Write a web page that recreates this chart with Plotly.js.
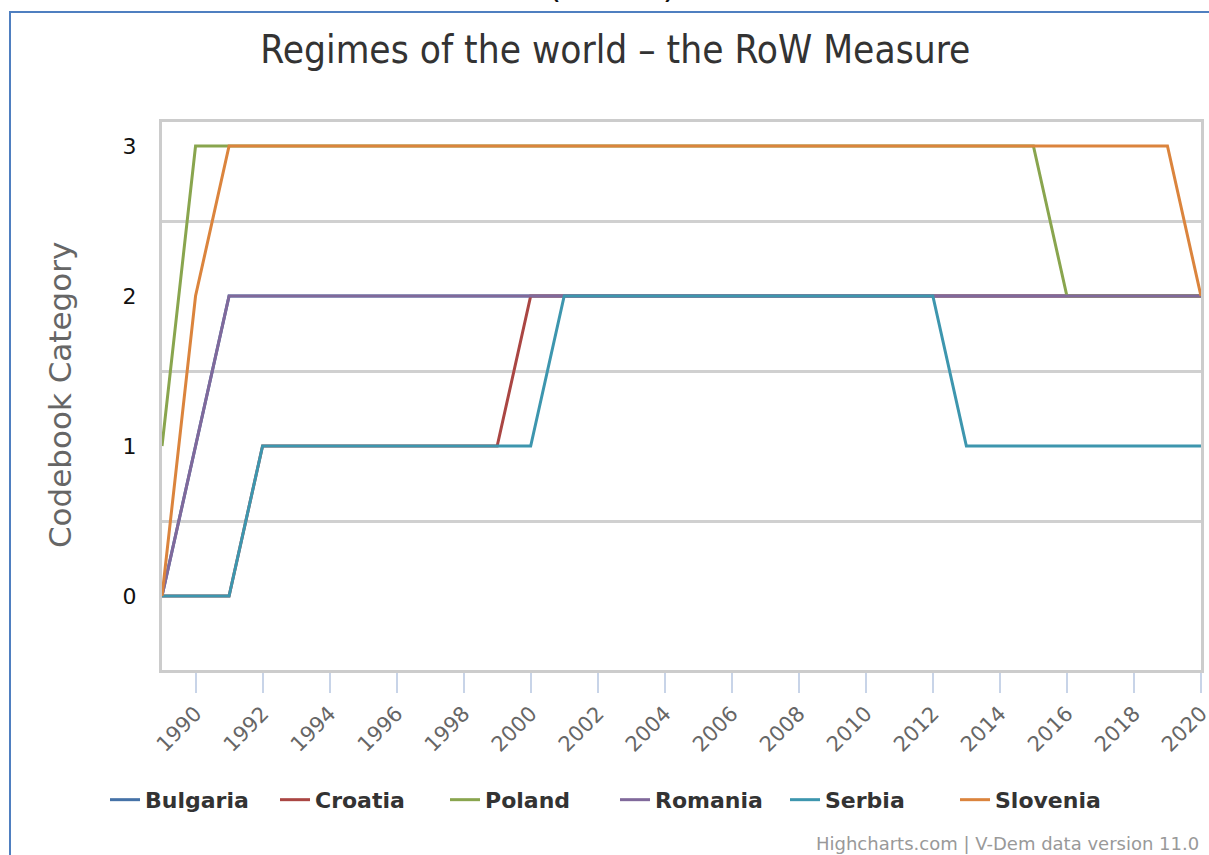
<!DOCTYPE html>
<html>
<head>
<meta charset="utf-8">
<script src="https://cdn.plot.ly/plotly-3.0.1.min.js"></script>
<style>
  html, body { margin: 0; padding: 0; width: 1209px; height: 855px; overflow: hidden; background: #fff; }
  #chart { position: absolute; left: 0; top: 0; width: 1209px; height: 855px; }
  #frame { position: absolute; left: 9px; top: 11px; right: 0; bottom: 0;
           border-left: 2px solid #4f7fc0; border-top: 2px solid #4f7fc0; pointer-events: none; z-index: 5; }
  #above { position: absolute; left: 548px; top: -34px;
           font-family: "DejaVu Sans", sans-serif; font-size: 34px; color: #111; letter-spacing: 3px; z-index: 6; white-space: nowrap; }
</style>
</head>
<body>
<div id="above">(2020)</div>
<div id="chart"></div>
<div id="frame"></div>
<script>
// Years 1989 - 2020
const years = [1989,1990,1991,1992,1993,1994,1995,1996,1997,1998,1999,2000,2001,2002,2003,2004,
               2005,2006,2007,2008,2009,2010,2011,2012,2013,2014,2015,2016,2017,2018,2019,2020];

const bulgaria = [0,1,2,2,2,2,2,2,2,2,2,2,2,2,2,2,2,2,2,2,2,2,2,2,2,2,2,2,2,2,2,2];
const croatia  = [0,0,0,1,1,1,1,1,1,1,1,2,2,2,2,2,2,2,2,2,2,2,2,2,2,2,2,2,2,2,2,2];
const poland   = [1,3,3,3,3,3,3,3,3,3,3,3,3,3,3,3,3,3,3,3,3,3,3,3,3,3,3,2,2,2,2,2];
const romania  = [0,1,2,2,2,2,2,2,2,2,2,2,2,2,2,2,2,2,2,2,2,2,2,2,2,2,2,2,2,2,2,2];
const serbia   = [0,0,0,1,1,1,1,1,1,1,1,1,2,2,2,2,2,2,2,2,2,2,2,2,1,1,1,1,1,1,1,1];
const slovenia = [0,2,3,3,3,3,3,3,3,3,3,3,3,3,3,3,3,3,3,3,3,3,3,3,3,3,3,3,3,3,3,2];

const seriesNames  = ["Bulgaria","Croatia","Poland","Romania","Serbia","Slovenia"];
const seriesValues = [bulgaria, croatia, poland, romania, serbia, slovenia];
const seriesColors = ["#4572A7","#AA4643","#89A54E","#80699B","#3D96AE","#DB843D"];

const xTicks = [1990,1992,1994,1996,1998,2000,2002,2004,2006,2008,2010,2012,2014,2016,2018,2020];
const yTicks = [0,1,2,3];
const yGrid  = [0.5,1.5,2.5];

// invisible trace so the grid axis (y) is laid out
const gridHolder = { type: "scatter", mode: "lines", x: [], y: [], showlegend: false, hoverinfo: "skip", yaxis: "y" };

const traces = [gridHolder].concat(seriesNames.map((n, i) => ({
  type: "scatter", mode: "lines", name: n,
  x: years, y: seriesValues[i],
  yaxis: "y2",
  line: { color: seriesColors[i], width: 3 },
  hoverinfo: "x+y+name"
})));

const yr = [-0.493, 3.16];
const font = "DejaVu Sans, Verdana, sans-serif";

const layout = {
  width: 1209, height: 855,
  margin: { l: 162, r: 8, t: 122, b: 185 },
  paper_bgcolor: "rgba(0,0,0,0)",
  plot_bgcolor: "#fff",
  font: { family: font, color: "#666" },
  showlegend: true,
  title: {
    text: "Regimes of the world \u2013 the RoW Measure",
    font: { family: "DejaVu Sans Condensed, DejaVu Sans, sans-serif", size: 38.5, color: "#333" },
    x: 0.509, xref: "container", xanchor: "center",
    y: 0.9415, yref: "container", yanchor: "middle"
  },
  xaxis: {
    range: [1988.999, 2020.001],
    tickvals: xTicks,
    ticktext: xTicks.map(String),
    tickangle: -45,
    ticklabeloverflow: "allow",
    tickfont: { size: 21, color: "#666", family: font },
    ticks: "outside", ticklen: 20, tickwidth: 2, tickcolor: "#c8d4e8",
    showgrid: false, zeroline: false,
    showline: true, linecolor: "#cccccc", linewidth: 3, mirror: true
  },
  yaxis: {
    range: yr,
    tickvals: yGrid,
    showticklabels: false,
    ticks: "",
    showgrid: true, gridcolor: "#d0d0d0", gridwidth: 3,
    zeroline: false,
    showline: true, linecolor: "#cccccc", linewidth: 3, mirror: true
  },
  yaxis2: {
    range: yr,
    overlaying: "y",
    side: "left",
    tickvals: yTicks,
    ticktext: yTicks.map(String),
    tickfont: { size: 22, color: "#111", family: font },
    ticks: "outside", ticklen: 20, tickcolor: "rgba(0,0,0,0)",
    showgrid: false, zeroline: false, showline: false
  },
  legend: {
    orientation: "h",
    x: 0.436, xanchor: "center",
    y: -0.237, yanchor: "middle",
    font: { size: 22, color: "#333", family: "DejaVu Sans, sans-serif", weight: "bold" },
    itemwidth: 30,
    entrywidth: 125, entrywidthmode: "pixels"
  },
  annotations: [{
    text: "Codebook Category",
    xref: "paper", yref: "paper",
    x: -0.098, xanchor: "center",
    y: 0.502, yanchor: "middle",
    textangle: -90,
    showarrow: false,
    font: { size: 31, color: "#666", family: font }
  }, {
    text: "Highcharts.com | V-Dem data version 11.0",
    xref: "paper", yref: "paper",
    x: 1, xanchor: "right",
    y: -0.316, yanchor: "middle",
    showarrow: false,
    font: { size: 18, color: "#999", family: font }
  }]
};

Plotly.newPlot("chart", traces, layout, { displayModeBar: false, staticPlot: true });
</script>
</body>
</html>
